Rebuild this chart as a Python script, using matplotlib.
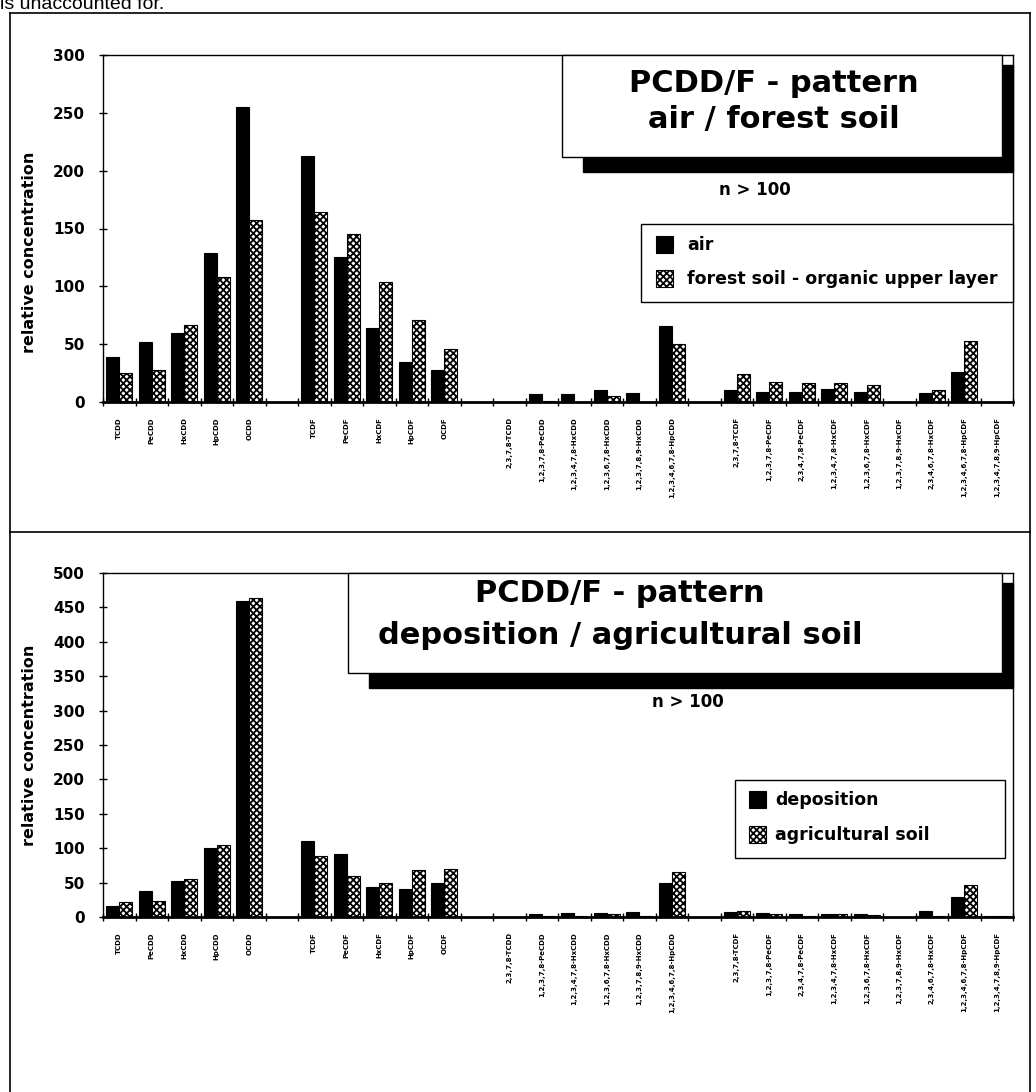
import numpy as np
import matplotlib
matplotlib.use("Agg")
import matplotlib.pyplot as plt
from matplotlib.patches import Rectangle
from matplotlib.lines import Line2D

plt.rcParams['font.family'] = 'DejaVu Sans'
plt.rcParams['font.weight'] = 'bold'
plt.rcParams['axes.labelweight'] = 'bold'
plt.rcParams['hatch.linewidth'] = 1.3

W, H = 1036, 1092

# categories, four groups separated by an empty slot
pcdd_hom = ["TCDD", "PeCDD", "HxCDD", "HpCDD", "OCDD"]
pcdf_hom = ["TCDF", "PeCDF", "HxCDF", "HpCDF", "OCDF"]
pcdd_cong = ["2,3,7,8-TCDD", "1,2,3,7,8-PeCDD", "1,2,3,4,7,8-HxCDD",
             "1,2,3,6,7,8-HxCDD", "1,2,3,7,8,9-HxCDD", "1,2,3,4,6,7,8-HpCDD"]
pcdf_cong = ["2,3,7,8-TCDF", "1,2,3,7,8-PeCDF", "2,3,4,7,8-PeCDF",
             "1,2,3,4,7,8-HxCDF", "1,2,3,6,7,8-HxCDF", "1,2,3,7,8,9-HxCDF",
             "2,3,4,6,7,8-HxCDF", "1,2,3,4,6,7,8-HpCDF", "1,2,3,4,7,8,9-HpCDF"]

# top panel: air / forest soil
air = [39, 52, 60, 129, 255,
       213, 125, 64, 35, 28,
       0, 7, 7, 10, 8, 66,
       10, 9, 9, 11, 9, 0, 8, 26, 0]
forest_soil = [25, 28, 67, 108, 157,
               164, 145, 104, 71, 46,
               0, 1, 0, 5, 0, 50,
               24, 17, 16, 16, 15, 0, 10, 53, 0]

# bottom panel: deposition / agricultural soil
deposition = [16, 38, 52, 101, 460,
              111, 92, 43, 41, 50,
              0, 5, 6, 6, 7, 50,
              7, 6, 5, 5, 5, 0, 8, 29, 2]
agri_soil = [22, 23, 55, 105, 463,
             89, 59, 50, 68, 70,
             0, 1, 1, 5, 1, 66,
             9, 5, 2, 5, 3, 0, 1, 47, 1]

groups = [pcdd_hom, pcdf_hom, pcdd_cong, pcdf_cong]
labels = []
xpos = []
slot = 0
for g in groups:
    for name in g:
        labels.append(name)
        xpos.append(slot + 0.5)
        slot += 1
    slot += 1
nslots = slot - 1
xpos = np.array(xpos)


def fx(x):
    return x / W


def fy(y):
    return 1 - y / H


fig = plt.figure(figsize=(W / 100, H / 100), dpi=100)

# cut-off text of the page above
fig.text(fx(0), fy(9), "is unaccounted for.", fontsize=14, fontweight='normal',
         family='Liberation Sans', va='baseline', ha='left')

# outer frame and divider
def fline(x0, y0, x1, y1, lw=1.2):
    fig.add_artist(Line2D([fx(x0), fx(x1)], [fy(y0), fy(y1)], color='black', lw=lw))

fline(10, 13, 1030, 13)
fline(10, 13, 10, 1092)
fline(1030, 13, 1030, 1092)
fline(10, 532, 1030, 532)


def draw_panel(ax, v1, v2, ymax):
    ax.bar(xpos - 0.2, v1, width=0.4, color='black', edgecolor='black', lw=0.8)
    ax.bar(xpos + 0.2, v2, width=0.4, color='white', edgecolor='black',
           hatch='xxxxx', lw=0.8)
    ax.set_xlim(0, nslots)
    ax.set_ylim(0, ymax)
    ax.set_yticks(np.arange(0, ymax + 1, 50))
    ax.set_xticks(np.arange(0, nslots + 1))
    ax.set_xticklabels([])
    ax.set_xticks(xpos, minor=True)
    ax.set_xticklabels(labels, minor=True, rotation=90, fontsize=5, va='top')
    ax.tick_params(axis='x', which='minor', length=0, pad=11)
    ax.tick_params(axis='x', which='major', direction='inout', length=6, width=1)
    ax.tick_params(axis='y', direction='inout', length=6, width=1, labelsize=11, pad=10)
    for s in ax.spines.values():
        s.set_linewidth(1.0)
    ax.spines['bottom'].set_linewidth(2.0)


def title_box(x0, y0, x1, y1, lines, cx, ys):
    fig.add_artist(Rectangle((fx(x0 + 21), fy(y1 + 15)), fx(x1 + 11) - fx(x0 + 21),
                             fy(y0 + 10) - fy(y1 + 15), transform=fig.transFigure,
                             facecolor='black', edgecolor='black'))
    fig.add_artist(Rectangle((fx(x0), fy(y1)), fx(x1) - fx(x0), fy(y0) - fy(y1),
                             transform=fig.transFigure, facecolor='white',
                             edgecolor='black', lw=1.0))
    for t, y in zip(lines, ys):
        fig.text(fx(cx), fy(y), t, fontsize=22, ha='center', va='center')


def legend_box(x0, y0, x1, y1, names, ys, mx, tx):
    fig.add_artist(Rectangle((fx(x0), fy(y1)), fx(x1) - fx(x0), fy(y0) - fy(y1),
                             transform=fig.transFigure, facecolor='white',
                             edgecolor='black', lw=1.0))
    styles = [dict(facecolor='black'), dict(facecolor='white', hatch='xxxxx')]
    for name, y, st in zip(names, ys, styles):
        fig.add_artist(Rectangle((fx(mx), fy(y + 8)), fx(17), fy(0) - fy(17),
                                 transform=fig.transFigure, edgecolor='black',
                                 lw=0.8, **st))
        fig.text(fx(tx), fy(y), name, fontsize=12.5, ha='left', va='center')


# top panel
ax1 = fig.add_axes([fx(103), fy(402), fx(910), fy(0) - fy(347)])
draw_panel(ax1, air, forest_soil, 300)
ax1.set_ylabel("relative concentration", fontsize=11.5)
ax1.yaxis.set_label_coords(-0.072, 0.43)
title_box(562, 55, 1002, 157, ["PCDD/F - pattern", "air / forest soil"], 774, [84, 119])
fig.text(fx(755), fy(190), "n > 100", fontsize=12, ha='center', va='center')
legend_box(641, 224, 1013, 302, ["air", "forest soil - organic upper layer"],
           [245, 279], 656, 687)

# bottom panel
ax2 = fig.add_axes([fx(103), fy(917), fx(910), fy(0) - fy(344)])
draw_panel(ax2, deposition, agri_soil, 500)
ax2.set_ylabel("relative concentration", fontsize=11.5)
ax2.yaxis.set_label_coords(-0.072, 0.5)
title_box(348, 573, 1002, 673, ["PCDD/F - pattern", "deposition / agricultural soil"],
          620, [593, 635])
fig.text(fx(688), fy(702), "n > 100", fontsize=12, ha='center', va='center')
legend_box(735, 780, 1005, 858, ["deposition", "agricultural soil"],
           [800, 835], 749, 775)

fig.savefig("out.png", dpi=100)
